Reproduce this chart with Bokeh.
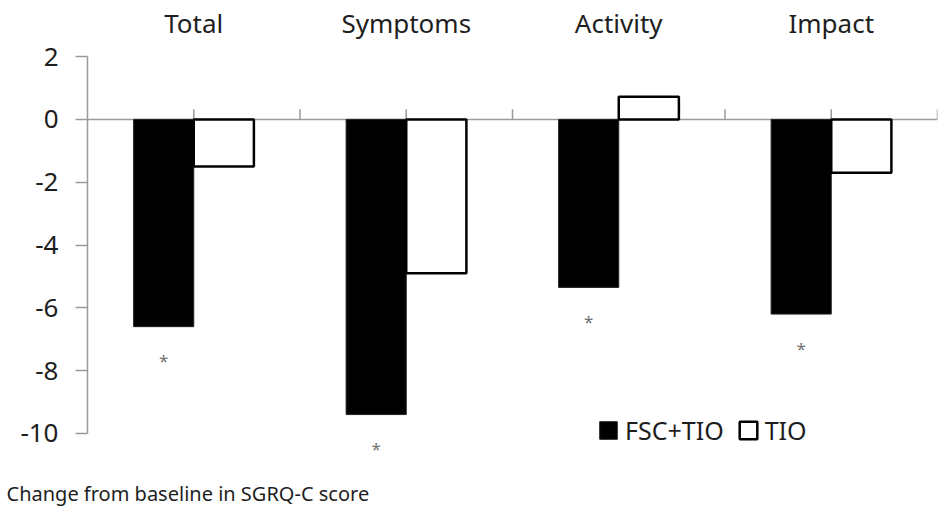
from bokeh.plotting import figure
from bokeh.models import Range1d, FixedTicker, Span, Legend, LegendItem, Title
from bokeh.core.properties import value
from bokeh.embed import file_html
from bokeh.resources import INLINE

categories = ["Total", "Symptoms", "Activity", "Impact"]
fsc_tio = [-6.6, -9.4, -5.35, -6.2]
tio = [-1.5, -4.9, 0.72, -1.7]
significant = [True, True, True, True]
y_ticks = [-10, -8, -6, -4, -2, 0, 2]
series_labels = ["FSC+TIO", "TIO"]
bottom_text = "Change from baseline in SGRQ-C score"

FONT = "Noto Sans"
TXT = "#1e1e1e"
GREY = "#9a9a9a"
centers = [i + 0.5 for i in range(len(categories))]
bar_w = 0.283

p = figure(width=942, height=509,
           x_range=Range1d(0, len(categories)), y_range=Range1d(-11.34, 2.13),
           output_backend="svg", toolbar_location=None,
           x_axis_location="above",
           min_border_left=87, min_border_right=5, min_border_top=52, min_border_bottom=34,
           outline_line_color=None)
p.xgrid.grid_line_color = None
p.ygrid.grid_line_color = None

xa = p.xaxis[0]
xa.ticker = FixedTicker(ticks=centers)
xa.major_label_overrides = {c: n for c, n in zip(centers, categories)}
xa.axis_line_color = None
xa.major_tick_line_color = None
xa.minor_tick_line_color = None
xa.major_label_standoff = 6
xa.major_label_text_font = FONT
xa.major_label_text_font_size = "26px"
xa.major_label_text_color = TXT

ya = p.yaxis[0]
ya.ticker = FixedTicker(ticks=y_ticks)
ya.major_label_overrides = {v: str(v) for v in y_ticks}
ya.bounds = (min(y_ticks), max(y_ticks))
ya.axis_line_color = GREY
ya.axis_line_width = 1.5
ya.major_tick_line_color = GREY
ya.major_tick_line_width = 1.5
ya.major_tick_out = 12
ya.major_tick_in = 0
ya.minor_tick_line_color = None
ya.major_label_standoff = 17
ya.major_label_text_font = FONT
ya.major_label_text_font_size = "26px"
ya.major_label_text_color = TXT

p.add_layout(Span(location=0, dimension="width", line_color=GREY, line_width=1.5, level="underlay"))
half_positions = [k * 0.5 for k in range(1, 2 * len(categories) + 1)]
p.segment(x0=half_positions, y0=[0] * len(half_positions), x1=half_positions,
          y1=[0.32] * len(half_positions), line_color=GREY, line_width=1.5, level="underlay")

r1 = p.vbar(x=[c - bar_w / 2 for c in centers], top=fsc_tio, bottom=0, width=bar_w,
            fill_color="black", line_color="#222222", line_width=1)
r2 = p.vbar(x=[c + bar_w / 2 for c in centers], top=tio, bottom=0, width=bar_w,
            fill_color="white", line_color="black", line_width=2.5)

star_x = [c - bar_w / 2 for c, s in zip(centers, significant) if s]
star_y = [v - 1.08 for v, s in zip(fsc_tio, significant) if s]
p.text(x=star_x, y=star_y, text=["*"] * len(star_x), text_align="center",
       text_baseline="middle", text_font=value(FONT), text_font_size="17px", text_color="#707070")

legend = Legend(items=[LegendItem(label=series_labels[0], renderers=[r1]),
                       LegendItem(label=series_labels[1], renderers=[r2])],
                orientation="horizontal", location=(510, 28),
                glyph_width=22, glyph_height=22, label_text_font=FONT,
                label_text_font_size="25px", label_text_color=TXT,
                background_fill_alpha=0, border_line_color=None,
                padding=0, margin=0, spacing=13, label_standoff=6)
p.add_layout(legend)

p.add_layout(Title(text=bottom_text, align="left", offset=-81, standoff=5,
                   text_font=FONT, text_font_size="20px", text_font_style="normal",
                   text_color=TXT), "below")

open("out.html", "w").write(file_html(p, INLINE))
